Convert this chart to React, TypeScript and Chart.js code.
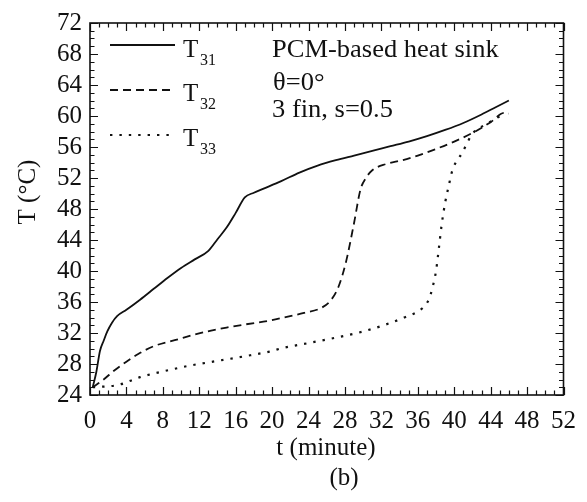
import React, { useEffect, useRef } from "react";
import { Chart, registerables } from "chart.js";
Chart.register(...registerables);

// ---- data ----
const t31 = [0.3, 0.7, 1.1, 1.5, 1.9, 2.4, 3.0, 4.0, 5.5, 7.0, 8.5, 10.0, 11.5, 13.0, 14.0, 15.0, 16.0, 17.0, 18.0, 19.0, 21.0, 23.0, 25.0, 27.0, 29.0, 31.0, 33.0, 35.0, 37.0, 39.0, 41.0, 43.0, 44.5, 46.0];
const T31 = [25.0, 27.0, 29.7, 31.0, 32.2, 33.3, 34.2, 35.0, 36.3, 37.7, 39.1, 40.4, 41.5, 42.6, 44.1, 45.6, 47.5, 49.5, 50.1, 50.6, 51.6, 52.7, 53.6, 54.3, 54.9, 55.5, 56.1, 56.7, 57.4, 58.2, 59.1, 60.2, 61.1, 62.0];

const t32 = [0.3, 1.5, 2.7, 4.0, 5.3, 7.0, 9.7, 11.5, 13.3, 15.0, 17.0, 19.7, 21.3, 23.5, 25.5, 26.5, 27.3, 28.1, 29.0, 29.7, 30.3, 31.0, 32.5, 34.3, 36.0, 37.9, 40.0, 42.3, 44.0, 45.5, 46.0];
const T32 = [25.0, 26.0, 27.2, 28.3, 29.3, 30.3, 31.2, 31.8, 32.3, 32.7, 33.1, 33.6, 34.0, 34.6, 35.3, 36.3, 38.0, 41.1, 46.2, 50.5, 52.0, 53.0, 53.8, 54.3, 54.9, 55.7, 56.7, 58.0, 59.2, 60.4, 60.3];

const t33 = [0.3, 3.1, 5.5, 8.6, 11.0, 14.0, 17.0, 19.7, 21.3, 24.0, 27.0, 30.0, 32.5, 34.5, 36.5, 37.2, 37.6, 38.0, 38.3, 38.6, 39.0, 39.4, 39.8, 40.9, 42.0, 43.6, 45.5];
const T33 = [25.0, 25.3, 26.3, 27.2, 27.8, 28.4, 29.0, 29.6, 30.1, 30.7, 31.4, 32.2, 33.1, 34.0, 35.2, 36.3, 37.8, 40.0, 42.8, 45.8, 48.8, 51.0, 53.0, 55.3, 57.7, 59.0, 60.3];

const seriesSubs = ["31", "32", "33"];
const annotation = ["PCM-based heat sink", "\u03B8=0\u00B0", "3 fin, s=0.5"];
const xTitle = "t (minute)";
const yTitle = "T (\u00B0C)";
const caption = "(b)";

const FONT = '"Liberation Serif", "Times New Roman", serif';
const INK = "#111";
const dashes: number[][] = [[], [8, 5], [2.4, 7]];

const pairs = (xs: number[], ys: number[]) => xs.map((x, i) => ({ x, y: ys[i] }));

const decor = {
  id: "decor",
  afterDraw(chart: any) {
    const { ctx, chartArea: a, scales } = chart;
    const xs = scales.x;
    const ys = scales.y;
    ctx.save();
    ctx.strokeStyle = INK;
    ctx.lineWidth = 1.6;
    ctx.strokeRect(a.left, a.top, a.right - a.left, a.bottom - a.top);
    ctx.lineWidth = 1.2;
    ctx.beginPath();
    for (let v = xs.min; v <= xs.max; v += 1) {
      const px = Math.round(xs.getPixelForValue(v)) + 0.5;
      const len = v % 4 === 0 ? 8 : 4.5;
      ctx.moveTo(px, a.bottom);
      ctx.lineTo(px, a.bottom - len);
      ctx.moveTo(px, a.top);
      ctx.lineTo(px, a.top + len);
    }
    for (let v = ys.min; v <= ys.max; v += 1) {
      const py = Math.round(ys.getPixelForValue(v)) + 0.5;
      const len = v % 4 === 0 ? 8 : 4.5;
      ctx.moveTo(a.left, py);
      ctx.lineTo(a.left + len, py);
      ctx.moveTo(a.right, py);
      ctx.lineTo(a.right - len, py);
    }
    ctx.stroke();

    ctx.fillStyle = INK;
    // axis titles
    ctx.font = `25px ${FONT}`;
    ctx.textAlign = "center";
    ctx.textBaseline = "middle";
    ctx.fillText(xTitle, 326, 448);
    ctx.fillText(caption, 344, 478);
    ctx.save();
    ctx.translate(28, 192);
    ctx.rotate(-Math.PI / 2);
    ctx.fillText(yTitle, 0, 0);
    ctx.restore();

    // annotation
    ctx.textAlign = "left";
    ctx.textBaseline = "alphabetic";
    const annY = [57, 90, 117];
    const annX = [272, 273, 272];
    annotation.forEach((s, i) => {
      ctx.save();
      ctx.translate(annX[i], annY[i]);
      ctx.scale(1.06, 1);
      ctx.fillText(s, 0, 0);
      ctx.restore();
    });

    // legend
    const lineY = [45, 90, 135];
    const baseY = [57, 101, 146];
    chart.data.datasets.forEach((ds: any, i: number) => {
      ctx.save();
      ctx.strokeStyle = INK;
      ctx.lineWidth = ds.borderWidth;
      ctx.setLineDash(dashes[i]);
      ctx.beginPath();
      ctx.moveTo(110, lineY[i]);
      ctx.lineTo(175, lineY[i]);
      ctx.stroke();
      ctx.restore();
      ctx.font = `25px ${FONT}`;
      ctx.fillText("T", 183, baseY[i]);
      ctx.font = `16px ${FONT}`;
      ctx.fillText(seriesSubs[i], 200, baseY[i] + 8);
    });
    ctx.restore();
  },
};

export default function App() {
  const ref = useRef<HTMLCanvasElement | null>(null);
  useEffect(() => {
    document.body.style.margin = "0";
    const ctx = ref.current!.getContext("2d")!;
    const mk = (label: string, xs: number[], ys: number[], i: number, w: number) => ({
      label,
      data: pairs(xs, ys),
      borderColor: INK,
      backgroundColor: INK,
      borderWidth: w,
      borderDash: dashes[i],
      pointRadius: 0,
      fill: false,
      cubicInterpolationMode: "monotone" as const,
    });
    const chart = new Chart(ctx, {
      type: "line",
      data: {
        datasets: [
          mk("T31", t31, T31, 0, 1.8),
          mk("T32", t32, T32, 1, 1.8),
          mk("T33", t33, T33, 2, 2.2),
        ],
      },
      options: {
        animation: false,
        responsive: false,
        maintainAspectRatio: false,
        layout: { padding: { top: 17, right: 22, left: 0, bottom: 0 } },
        plugins: { legend: { display: false }, tooltip: { enabled: false } },
        scales: {
          x: {
            type: "linear",
            min: 0,
            max: 52,
            grid: { display: false, drawTicks: false },
            border: { display: false },
            ticks: {
              stepSize: 4,
              autoSkip: false,
              maxRotation: 0,
              padding: 11,
              color: INK,
              font: { family: FONT, size: 25 },
            },
            afterFit: (s: any) => {
              s.height = 107;
            },
          },
          y: {
            type: "linear",
            min: 24,
            max: 72,
            grid: { display: false, drawTicks: false },
            border: { display: false },
            ticks: {
              stepSize: 4,
              autoSkip: false,
              padding: 8,
              color: INK,
              font: { family: FONT, size: 25 },
            },
            afterFit: (s: any) => {
              s.width = 90;
            },
          },
        },
      },
      plugins: [decor],
    });
    return () => chart.destroy();
  }, []);
  return (
    <div style={{ position: "fixed", left: 0, top: 0, width: 587, height: 502, background: "#fff" }}>
      <canvas ref={ref} width={587} height={502} style={{ width: 587, height: 502 }} />
    </div>
  );
}
